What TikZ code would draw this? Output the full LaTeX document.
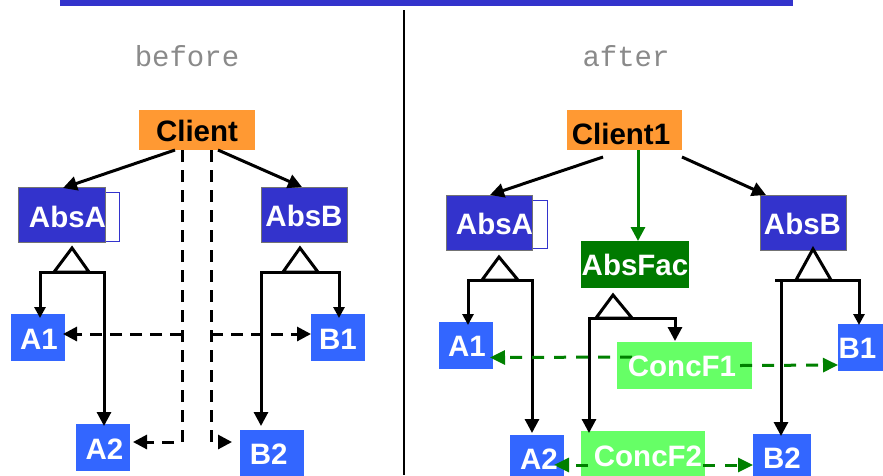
\documentclass[tikz,border=0pt]{standalone}
\usepackage{fontspec}
\setmainfont{Liberation Sans}
\newfontfamily\typefont{Liberation Mono}
\usetikzlibrary{arrows.meta}

\definecolor{absblue}{HTML}{3333CC}
\definecolor{concblue}{HTML}{3366FF}
\definecolor{clientorange}{HTML}{FF9933}
\definecolor{facgreen}{HTML}{007A00}
\definecolor{concgreen}{HTML}{66FF66}
\definecolor{linkgreen}{HTML}{008000}
\definecolor{captiongray}{HTML}{8A8A8A}

\tikzset{
  box/.style={rectangle, inner sep=0pt, outer sep=0pt},
  clientbox/.style={box, fill=clientorange},
  absbox/.style={box, fill=absblue, draw=black!55, line width=0.6pt, minimum width=86pt, minimum height=55pt},
  tabbox/.style={box, fill=white, draw=absblue, line width=0.8pt},
  concbox/.style={box, fill=concblue, minimum width=54pt, minimum height=47pt},
  facbox/.style={box, fill=facgreen, minimum height=47pt},
  cfbox/.style={box, fill=concgreen, minimum height=47pt},
  lbl/.style={inner sep=0pt, text=white, font=\bfseries\fontsize{29.5}{30}\selectfont, text height=21pt, text depth=0pt},
  caption/.style={inner sep=0pt, anchor=base, text=captiongray, font=\typefont\fontsize{29}{30}\selectfont},
  link/.style={line width=3pt},
  arr/.style={link, -{Triangle[length=14pt,width=14pt]}},
  smallarr/.style={link, -{Triangle[length=11pt,width=11pt]}},
  darr/.style={arr, dash pattern=on 12pt off 8pt},
  garr/.style={line width=3pt, draw=linkgreen, -{Triangle[length=14pt,width=14pt,fill=linkgreen]}},
  gdarr/.style={line width=3pt, draw=linkgreen, dash pattern=on 12pt off 10pt, -{Triangle[length=15pt,width=14pt,fill=linkgreen]}},
  gen/.style={line width=3pt, fill=white, line join=miter},
}

\begin{document}
\begin{tikzpicture}[x=1pt, y=-1pt]
\useasboundingbox (0,0) rectangle (883,475);
\clip (0,0) rectangle (883,475);

% title bar and divider
\fill[absblue] (60,0) rectangle (793,5.5);
\draw[line width=2.6pt] (404,10) -- (404,475);

\node[caption] (capBefore) at (187,66) {before};
\node[caption] (capAfter) at (626,66) {after};

% ---------------- before ----------------
\node[clientbox, minimum width=116pt, minimum height=40pt] (cl) at (197,130) {};
\node[tabbox, minimum width=14pt, minimum height=49pt] (absAtab) at (112,216.5) {};
\node[absbox, minimum width=87pt] (absA) at (61.5,214.5) {};
\node[absbox] (absB) at (304,214.5) {};
\node[concbox] (a1) at (38,337.5) {};
\node[concbox] (a2) at (103,447.5) {};
\node[concbox] (b1) at (338,337.5) {};
\node[concbox, minimum width=64pt] (b2) at (272,453.5) {};

\draw[arr] ([xshift=-22pt]cl.south) -- ([xshift=1.5pt,yshift=-1pt]absA.north);
\draw[arr] ([xshift=21pt]cl.south) -- ([xshift=-2pt]absB.north);

% creation dependencies of the client
\coordinate (dl) at (182,150);
\coordinate (dr) at (211,150);
\draw[darr] (dl) |- ([xshift=3pt,yshift=5.5pt]a2.east);
\draw[darr] (dl |- 0,334) -- ([xshift=-2pt,yshift=3.5pt]a1.east);
\draw[darr] (dr |- 0,334) -- ([yshift=3.5pt]b1.west);
\draw[darr] (dr) |- ([xshift=-8pt,yshift=11.5pt]b2.west);

% generalisations
\coordinate (genA) at (72,272);
\coordinate (genB) at (300,272);
\draw[smallarr] (genA) -| ([xshift=2pt,yshift=-4pt]a1.north);
\draw[arr] (genA) -| ([xshift=1pt,yshift=-2pt]a2.north);
\draw[arr] (genB) -| ([xshift=-11pt,yshift=4pt]b2.north);
\draw[smallarr] (genB) -| ([xshift=1pt,yshift=-4pt]b1.north);
\draw[gen] (72,248) -- (54,272) -- (89,272) -- cycle;
\draw[gen] (300,248) -- (283,272) -- (318,272) -- cycle;

% ---------------- after ----------------
\node[clientbox, minimum width=115pt, minimum height=40pt] (cl1) at (624.5,130) {};
\node[tabbox, minimum width=15pt, minimum height=48pt] (absA2tab) at (539.5,224) {};
\node[absbox] (absA2) at (489,222.5) {};
\node[absbox] (absB2) at (803,222.5) {};
\node[facbox, minimum width=108pt] (fac) at (635,264.5) {};
\node[cfbox, minimum width=135pt] (cf1) at (684.5,365.5) {};
\node[cfbox, minimum width=124pt] (cf2) at (643,454.5) {};
\node[concbox] (a1r) at (466,345.5) {};
\node[concbox] (a2r) at (537,458.5) {};
\node[concbox] (b1r) at (865,347.5) {};
\node[concbox, minimum width=58pt] (b2r) at (782,457.5) {};

\draw[arr] ([xshift=-21.5pt,yshift=-7pt]cl1.south) -- ([xshift=1pt]absA2.north);
\draw[arr] ([xshift=57.5pt,yshift=-7pt]cl1.south) -- ([xshift=-37pt]absB2.north);
\draw[garr] ([xshift=13.5pt]cl1.south) -- ([xshift=3pt]fac.north);

\coordinate (genA2) at (499,280);
\coordinate (genB2) at (813,280);
\coordinate (genF) at (613,318);
\draw[smallarr] (genA2) -| ([xshift=2pt,yshift=-3pt]a1r.north);
\draw[arr] (genA2) -| ([xshift=-5pt,yshift=2pt]a2r.north);
\draw[link] (genB2) -- (775,280);
\draw[arr] (genB2) -| ([xshift=-1pt,yshift=-2pt]b2r.north);
\draw[smallarr] (genB2) -| ([xshift=-6pt,yshift=-1pt]b1r.north);
\draw[arr] (genF) -| ([xshift=-54pt,yshift=-2pt]cf2.north);
\draw[arr] (genF) -| ([xshift=-9.5pt,yshift=1pt]cf1.north);
\draw[gen] (499,257) -- (482,280) -- (518,280) -- cycle;
\draw[gen] (813,249) -- (796,280) -- (831,280) -- cycle;
\draw[gen] (613,295) -- (596,318) -- (632,318) -- cycle;

% products created by the concrete factories
\draw[gdarr] ([xshift=15pt,yshift=8.5pt]cf1.west) -- ([xshift=-3pt,yshift=-12pt]a1r.east);
\draw[gdarr] ([xshift=-12pt]cf1.east) -- ([yshift=-17.5pt]b1r.west);
\draw[gdarr] ([xshift=7pt,yshift=-10.5pt]cf2.west) -- ([xshift=-10pt,yshift=-6.5pt]a2r.east);
\draw[gdarr] ([xshift=-2pt,yshift=-10.5pt]cf2.east) -- ([yshift=-7.5pt]b2r.west);

% ---------------- labels ----------------
\node[lbl, text=black] (clT) at (197,130.5) {Client};
\node[lbl] (absAT) at (67.5,217) {AbsA};
\node[lbl] (absBT) at (304,215.5) {AbsB};
\node[lbl] (a1T) at (39,339) {A1};
\node[lbl] (a2T) at (104.5,449) {A2};
\node[lbl] (b1T) at (338,339) {B1};
\node[lbl] (b2T) at (268.7,454) {B2};

\node[lbl, text=black] (cl1T) at (621,134) {Client1};
\node[lbl] (absA2T) at (494.5,224) {AbsA};
\node[lbl] (absB2T) at (802.5,224) {AbsB};
\node[lbl] (facT) at (635,264.5) {AbsFac};
\node[lbl] (cf1T) at (682,366) {ConcF1};
\node[lbl] (cf2T) at (648,455.5) {ConcF2};
\node[lbl] (a1rT) at (467,345.5) {A1};
\node[lbl] (a2rT) at (539,459) {A2};
\node[lbl] (b1rT) at (857.5,347.5) {B1};
\node[lbl] (b2rT) at (782,458) {B2};
\end{tikzpicture}
\end{document}
